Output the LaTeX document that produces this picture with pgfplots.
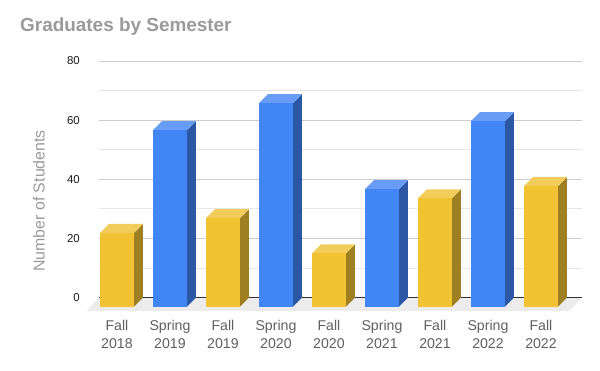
\documentclass[border=0pt]{standalone}
\usepackage{pgfplots}
\pgfplotsset{compat=1.18}
\usepackage{pgfplotstable}
\usetikzlibrary{calc}
\usepackage{fontspec}
\setmainfont{Liberation Sans}
\definecolor{fallF}{HTML}{F1C232}
\definecolor{fallT}{HTML}{F3CD5C}
\definecolor{fallS}{HTML}{9E7F21}
\definecolor{sprF}{HTML}{4285F4}
\definecolor{sprT}{HTML}{689CF5}
\definecolor{sprS}{HTML}{2B57A5}
\definecolor{gridmaj}{HTML}{CCCCCC}
\definecolor{gridmin}{HTML}{E6E6E6}
\definecolor{floorc}{HTML}{ECECEC}
\definecolor{titlec}{HTML}{9A9A9A}
\definecolor{labc}{HTML}{5F5F5F}

% x = category index, v = value, c = 0 Fall / 1 Spring
\pgfplotstableread{
x v    c
0 24.9 0
1 59.7 1
2 29.9 0
3 68.8 1
4 18.0 0
5 39.7 1
6 36.6 0
7 62.7 1
8 40.7 0
}\data

\def\hw{0.3208}% half bar width (x units)
\def\dx{0.1698}% depth offset x
\def\dy{3.043}%  depth offset y

\begin{document}
\begin{tikzpicture}
\begin{axis}[
  scale only axis,
  width=483bp, height=250bp,
  xmin=-0.509, xmax=8.604,
  ymin=-4.53, ymax=80,
  clip=false,
  axis line style={draw=none},
  major tick length=0pt, minor tick length=0pt,
  ytick={0,20,40,60,80},
  minor ytick={10,30,50,70},
  ymajorgrids, yminorgrids,
  major grid style={gridmaj, line width=0.8bp},
  minor grid style={gridmin, line width=0.8bp},
  /pgf/number format/assume math mode=true,
  yticklabel style={font=\fontsize{11.5}{13}\selectfont, color=black!90, anchor=east, inner sep=0pt, xshift=-19bp},
  xtick={0,...,8},
  xticklabels={{Fall\\2018},{Spring\\2019},{Fall\\2019},{Spring\\2020},{Fall\\2020},{Spring\\2021},{Fall\\2021},{Spring\\2022},{Fall\\2022}},
  xticklabel style={font=\fontsize{14.2}{17.7}\selectfont, color=labc, align=center, anchor=north, inner sep=0pt, xshift=-9bp, yshift=-9bp},
  ylabel={Number of Students},
  ylabel style={font=\fontsize{16}{18}\selectfont, color=titlec, at={(rel axis cs:-0.1242,0.44)}, anchor=center, rotate=0},
  title={\bfseries Graduates by Semester},
  title style={font=\fontsize{19}{22}\selectfont, color=titlec, at={(rel axis cs:-0.1636,1.0922)}, anchor=base west, inner sep=0pt},
]
\coordinate (sw) at (rel axis cs:0,0);
% floor
\fill[floorc] (axis cs:-0.509,0) -- (axis cs:8.604,0) -- (axis cs:8.368,-4.53) -- (axis cs:-0.745,-4.53) -- cycle;
\draw[black!80, line width=0.9bp] (axis cs:-0.509,0) -- (axis cs:8.604,0);
% bars
\pgfplotsforeachungrouped \i in {0,...,8}{%
  \pgfplotstablegetelem{\i}{v}\of\data \let\val\pgfplotsretval
  \pgfplotstablegetelem{\i}{c}\of\data \let\typ\pgfplotsretval
  \ifnum\typ=0 \def\cf{fallF}\def\ct{fallT}\def\cs{fallS}\else\def\cf{sprF}\def\ct{sprT}\def\cs{sprS}\fi
  \pgfmathsetmacro\xl{\i-\hw-\dx}%
  \pgfmathsetmacro\xr{\i+\hw-\dx}%
  \pgfmathsetmacro\bl{\i-\hw}%
  \pgfmathsetmacro\br{\i+\hw}%
  \pgfmathsetmacro\vf{\val-\dy}%
  \pgfmathsetmacro\yb{-\dy}%
  \edef\tmp{%
    \noexpand\addplot[fill=\cs, draw=none, forget plot] coordinates {(\xr,\yb) (\br,0) (\br,\val) (\xr,\vf)} -- cycle;
    \noexpand\addplot[fill=\ct, draw=none, forget plot] coordinates {(\xl,\vf) (\xr,\vf) (\br,\val) (\bl,\val)} -- cycle;
    \noexpand\addplot[fill=\cf, draw=none, forget plot] coordinates {(\xl,\yb) (\xr,\yb) (\xr,\vf) (\xl,\vf)} -- cycle;
  }\tmp
}
\end{axis}
\pgfresetboundingbox
\path[use as bounding box] ($(sw)+(-99bp,-60bp)$) rectangle ++(600bp,371bp);
\end{tikzpicture}
\end{document}
